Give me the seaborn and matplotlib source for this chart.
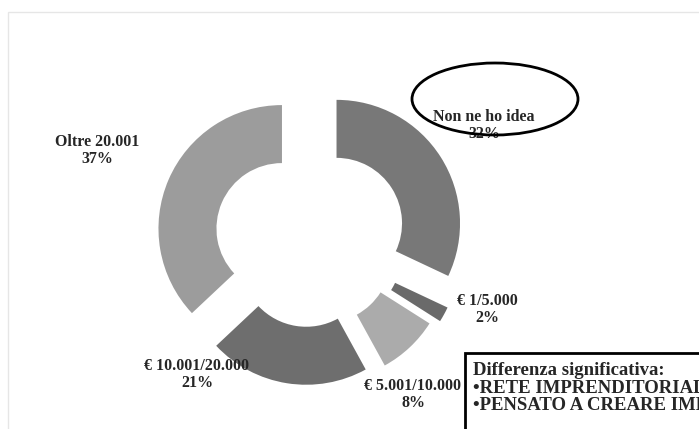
import matplotlib
matplotlib.use("Agg")
import matplotlib.pyplot as plt
import seaborn as sns
from matplotlib.patches import Ellipse, Rectangle

# dati
categorie = ["Non ne ho idea", "€ 1/5.000", "€ 5.001/10.000", "€ 10.001/20.000", "Oltre 20.001"]
percentuali = [32, 2, 8, 21, 37]
colori = ["#787878", "#6a6a6a", "#ababab", "#6e6e6e", "#9c9c9c"]
esplosione = [32, 30, 23, 21, 30]

note_titolo = "Differenza significativa:"
note_righe = ["•RETE IMPRENDITORIALE", "•PENSATO A CREARE IMPRESA"]

sns.set_theme(style="white")
plt.rcParams["font.family"] = ["Liberation Serif", "DejaVu Serif"]

W, H = 699, 429
fig = plt.figure(figsize=(W / 100, H / 100), dpi=100)
ax = fig.add_axes([0, 0, 1, 1])

# cornice leggera
ax.add_patch(Rectangle((8, -5), W, H - 12 + 5, fill=False, edgecolor="#e6e6e6", lw=1))

cx, cy, r = 309.5, H - 240.5, 123.5
ax.pie(percentuali, colors=colori, explode=esplosione, startangle=90,
       counterclock=False, radius=r, center=(cx, cy), frame=True,
       wedgeprops=dict(width=58, edgecolor="none"))
ax.set_xlim(0, W)
ax.set_ylim(0, H)
ax.axis("off")

# etichette (posizione in pixel dall'alto)
pos_etichette = [(484, 117), (487, 301), (413, 386), (197, 366), (97, 142)]
for cat, p, (x, y) in zip(categorie, percentuali, pos_etichette):
    ax.text(x, H - y, cat, ha="center", va="center", fontsize=11.5, fontweight="bold", zorder=5)
    ax.text(x, H - y - 17, f"{p}%", ha="center", va="center", fontsize=11.5, fontweight="bold", zorder=5)

ax.add_patch(Ellipse((495, H - 99), 166, 72, fill=False, edgecolor="black", lw=2, zorder=6))

# riquadro note
ax.add_patch(Rectangle((465, -10), 300, H - 353 + 10, facecolor="white", edgecolor="black", lw=2, zorder=7))
ax.text(473, H - 375, note_titolo, ha="left", va="baseline", fontsize=13.5, fontweight="bold", zorder=8)
for riga, yb in zip(note_righe, [393, 410]):
    ax.text(473, H - yb, riga, ha="left", va="baseline", fontsize=13.5, fontweight="bold", zorder=8)

fig.savefig("out.png", dpi=100)
